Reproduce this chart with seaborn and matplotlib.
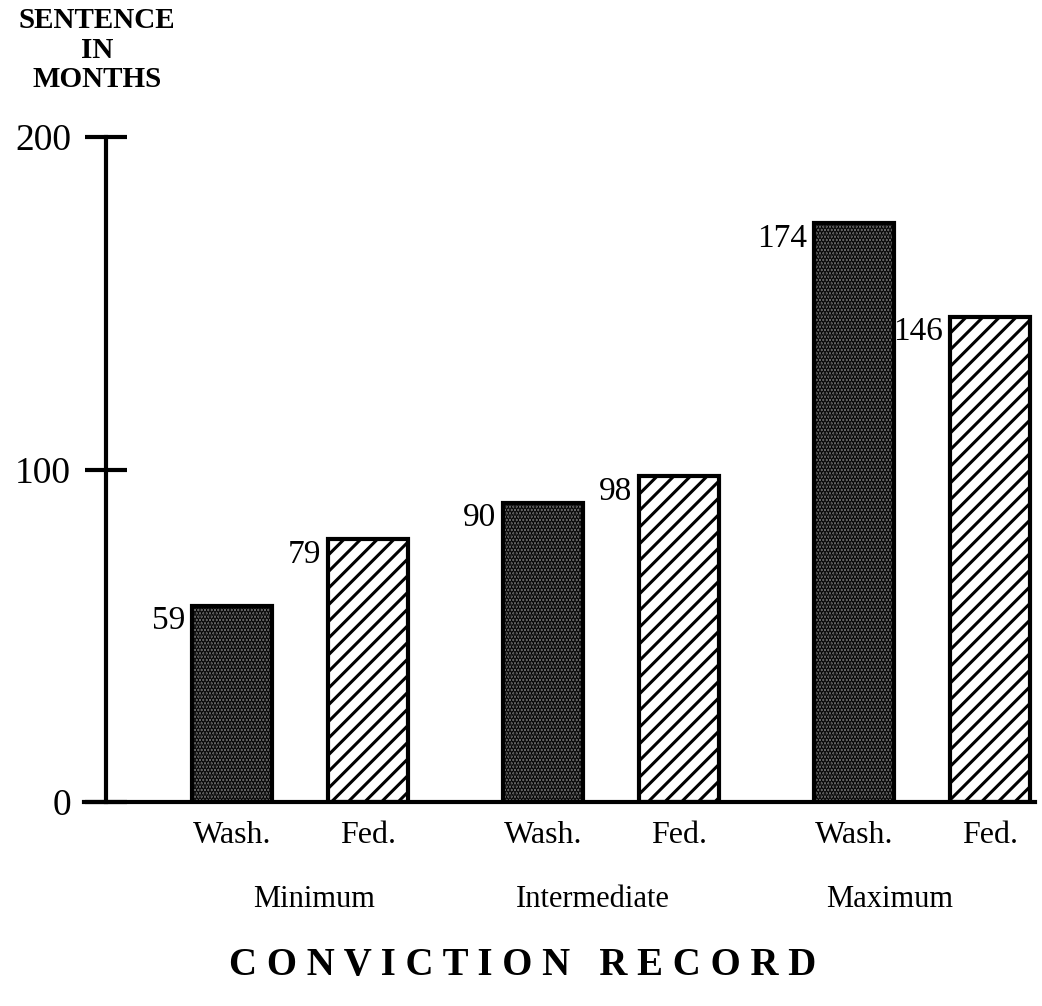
import matplotlib
matplotlib.use("Agg")
import matplotlib.pyplot as plt
import seaborn as sns
import pandas as pd

# data
levels = ["Minimum", "Intermediate", "Maximum"]
courts = ["Wash.", "Fed."]
wash_months = [59, 90, 174]
fed_months = [79, 98, 146]

df = pd.DataFrame({
    "level": levels * 2,
    "court": [courts[0]] * 3 + [courts[1]] * 3,
    "months": wash_months + fed_months,
})

sns.set_theme(style="white")
plt.rcParams["font.family"] = ["Liberation Serif", "DejaVu Serif"]
plt.rcParams["text.color"] = "black"
plt.rcParams["hatch.linewidth"] = 2.2

fig = plt.figure(figsize=(10.42, 10.06), dpi=100)
ax = fig.add_axes([0.1017, 0.2028, 0.8916, 0.661])

sns.barplot(data=df, x="level", y="months", hue="court", order=levels,
            hue_order=courts, width=0.875, gap=0.41, errorbar=None,
            legend=False, ax=ax)

# Wash. = dark stipple, Fed. = diagonal hatch
styles = [("#767676", "....."), ("white", "//")]
for cont, (fc, hatch) in zip(ax.containers, styles):
    for bar in cont:
        bar.set_facecolor(fc)
        bar.set_edgecolor("black")
        bar.set_hatch(hatch)
        bar.set_linewidth(3)

# value labels left of each bar top, court names under bars
for cont, name in zip(ax.containers, courts):
    for bar in cont:
        h = bar.get_height()
        ax.annotate(f"{h:.0f}", (bar.get_x(), h), xytext=(-5, 0),
                    textcoords="offset points", ha="right", va="top",
                    fontsize=24, color="black")
        ax.annotate(name, (bar.get_x() + bar.get_width() / 2, 0),
                    xytext=(0, -24), textcoords="offset points",
                    ha="center", va="center", fontsize=23, color="black",
                    annotation_clip=False)

# group names sit a little off the group centres in the original
level_shift = [14, -18, -32]
for i, lev in enumerate(levels):
    ax.annotate(lev, (i, 0), xytext=(level_shift[i] * 0.72, -70),
                textcoords="offset points", ha="center", va="center",
                fontsize=22, color="black", annotation_clip=False)

ax.set_xlim(-0.624, 2.363)
ax.set_ylim(0, 200)
ax.set_yticks([0, 100, 200])
ax.set_xticks([])
ax.set_xlabel("")
ax.set_ylabel("")
ax.tick_params(axis="y", direction="inout", length=30, width=3,
               pad=10, labelsize=27, left=True, colors="black")

sns.despine(ax=ax, top=True, right=True)
for side in ["left", "bottom"]:
    ax.spines[side].set_linewidth(3)
    ax.spines[side].set_color("black")
ax.spines["bottom"].set_bounds(-0.624 - 0.07, 2.363)
ax.spines["bottom"].set_clip_on(False)

fig.text(0.093, 1 - 50 / 1006, "SENTENCE\nIN\nMONTHS", ha="center",
         va="center", fontsize=21, fontweight="bold", linespacing=1.1)
fig.text(0.502, 0.04, "C O N V I C T I O N   R E C O R D", ha="center",
         va="center", fontsize=28, fontweight="bold")

fig.savefig("out.png", dpi=100, facecolor="white")
plt.close(fig)
